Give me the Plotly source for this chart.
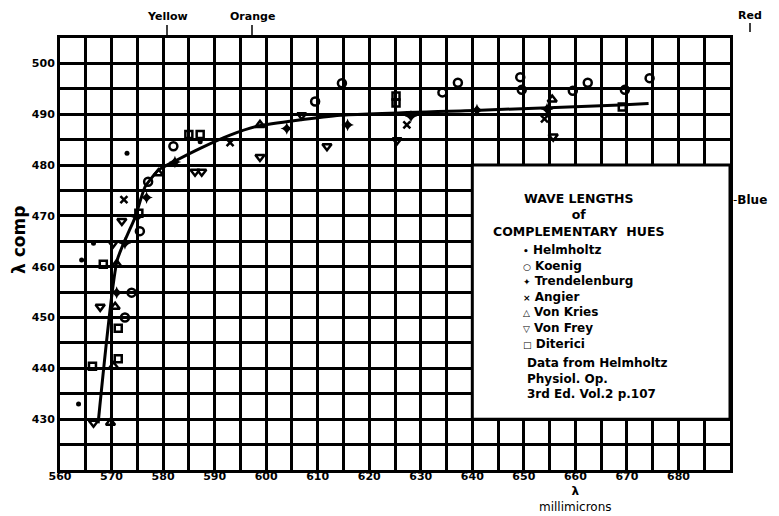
import plotly.graph_objects as go

# wave lengths (millimicrons) and complementary wave lengths
helm_x = [573.0, 566.5, 564.2, 563.6, 587.2]
helm_y = [482.3, 464.6, 461.3, 433.0, 484.6]

koenig_x = [582.0, 577.1, 575.5, 573.9, 572.6, 609.5, 614.7, 634.2, 637.2, 649.3, 649.6, 659.5, 662.4, 669.6, 674.4]
koenig_y = [483.7, 476.7, 467.0, 454.9, 450.0, 492.5, 496.1, 494.3, 496.2, 497.3, 494.8, 494.6, 496.2, 494.8, 497.1]

trend_x = [582.3, 576.8, 575.0, 572.6, 571.0, 604.0, 615.8, 628.1, 640.9, 654.5]
trend_y = [480.6, 473.6, 469.8, 464.6, 454.9, 487.2, 487.9, 489.6, 490.8, 491.0]

angier_x = [593.0, 572.4, 627.3, 654.0]
angier_y = [484.4, 473.2, 487.9, 489.1]

kries_x = [579.1, 571.0, 570.7, 570.4, 569.8, 598.8, 655.5]
kries_y = [478.4, 460.5, 452.1, 440.4, 429.3, 487.9, 492.9]

frey_x = [586.2, 587.5, 572.0, 570.3, 567.8, 566.5, 598.8, 606.9, 611.8, 625.4, 655.7]
frey_y = [478.7, 478.7, 469.0, 464.6, 452.1, 429.3, 481.6, 489.8, 483.7, 484.9, 485.6]

dit_x = [585.0, 587.2, 575.3, 568.4, 571.3, 571.3, 566.3, 625.2, 625.2, 669.1]
dit_y = [486.0, 486.0, 470.5, 460.5, 447.9, 441.9, 440.4, 493.6, 492.2, 491.4]

# hand-drawn fitted curve
curve_x = [567.4, 571.1, 574.6, 576.5, 579.1, 582.7, 587.2, 593.0, 598.5, 614.4, 641.6, 668.7, 674.2]
curve_y = [429.2, 461.3, 469.8, 475.7, 479.0, 481.0, 483.3, 485.9, 487.7, 489.8, 490.8, 491.8, 492.1]

x_ticks = list(range(560, 681, 10))
y_ticks = list(range(430, 501, 10))

legend_title = ["WAVE LENGTHS", "of", "COMPLEMENTARY  HUES"]
legend_names = ["Helmholtz", "Koenig", "Trendelenburg", "Angier", "Von Kries", "Von Frey", "Diterici"]
legend_marks = ["•", "○", "✦", "×", "△", "▽", "□"]
source_note = ["Data from Helmholtz", "Physiol. Op.", "3rd Ed. Vol.2 p.107"]

FONT = "DejaVu Sans"

fig = go.Figure()

fig.add_trace(go.Scatter(x=curve_x, y=curve_y, mode="lines",
                         line=dict(color="black", width=3, shape="spline", smoothing=0.5)))

series = [
    (helm_x, helm_y, "circle", 5, 0),
    (koenig_x, koenig_y, "circle-open", 8, 2.5),
    (trend_x, trend_y, "star-diamond", 9, 0),
    (angier_x, angier_y, "x-thin", 7, 2.5),
    (kries_x, kries_y, "triangle-up-open", 8, 2.5),
    (frey_x, frey_y, "triangle-down-open", 8, 2.5),
    (dit_x, dit_y, "square-open", 7, 2.5),
]
for xs, ys, sym, size, lw in series:
    fig.add_trace(go.Scatter(x=xs, y=ys, mode="markers",
                             marker=dict(symbol=sym, size=size, color="black",
                                         line=dict(color="black", width=lw))))

# legend box
fig.add_shape(type="rect", x0=640, x1=690, y0=430, y1=480, xref="x", yref="y",
              fillcolor="white", line=dict(color="black", width=3), layer="above")


def px(xp, yp):
    # position on the page (plot area 60..730 x 38..470) -> paper coords
    return (xp - 60) / 670, (470 - yp) / 432


def note(xp, yp, text, size=12, xanchor="center", yanchor="middle", align="center", angle=0):
    xx, yy = px(xp, yp)
    fig.add_annotation(x=xx, y=yy, xref="paper", yref="paper", text=text, showarrow=False,
                       xanchor=xanchor, yanchor=yanchor, align=align, textangle=angle,
                       font=dict(family=FONT, size=size, color="black"))


note(578, 215, "<br>".join(f"<b>{t}</b>" for t in legend_title), size=12.5)
entries = [f"<span style='font-size:9px'>{m}</span> {n}" for m, n in zip(legend_marks, legend_names)]
note(521, 297, "<br>".join(f"<b>{e}</b>" for e in entries), size=12, xanchor="left", align="left")
note(525, 378, "<br>".join(f"<b>{s}</b>" for s in source_note), size=12, xanchor="left", align="left")

# colour marks round the frame
note(167, 17, "<b>Yellow</b>", size=11)
note(252, 17, "<b>Orange</b>", size=11)
note(750, 15, "<b>Red</b>", size=11)
note(731, 200, "-<b>Blue</b>", size=12, xanchor="left")
for x0, y0, y1 in [(167, 25, 38), (252, 25, 38), (750, 23, 32)]:
    fig.add_shape(type="line", xref="paper", yref="paper",
                  x0=px(x0, 0)[0], x1=px(x0, 0)[0], y0=px(0, y0)[1], y1=px(0, y1)[1],
                  line=dict(color="black", width=1.5))

# axis titles
note(575, 516, "<b>λ</b><br>millimicrons", size=12, yanchor="bottom")
note(19, 240, "<b>λ comp</b>", size=17, angle=-90)

grid = dict(showgrid=True, gridcolor="black", gridwidth=2.5, zeroline=False,
            showline=True, linecolor="black", linewidth=3, mirror=True,
            ticks="", tickfont=dict(family=FONT, size=11, color="black"))

fig.update_xaxes(range=[560, 690], tickmode="array", tickvals=x_ticks,
                 ticktext=[f"<b>{v}</b>" for v in x_ticks], ticklabelstandoff=-6,
                 minor=dict(tick0=0, dtick=5, showgrid=True, gridcolor="black", gridwidth=2.5),
                 **grid)
fig.update_yaxes(range=[420, 505], tickmode="array", tickvals=y_ticks,
                 ticktext=[f"<b>{v}</b>" for v in y_ticks],
                 minor=dict(tick0=0, dtick=5, showgrid=True, gridcolor="black", gridwidth=2.5),
                 **grid)

# the page adds an 8px body margin, so the figure sits 8px in from the window corner
fig.update_layout(width=771, height=508, showlegend=False,
                  margin=dict(l=52, r=49, t=30, b=46),
                  plot_bgcolor="white", paper_bgcolor="white",
                  font=dict(family=FONT, color="black"))

fig.write_html("out.html")
